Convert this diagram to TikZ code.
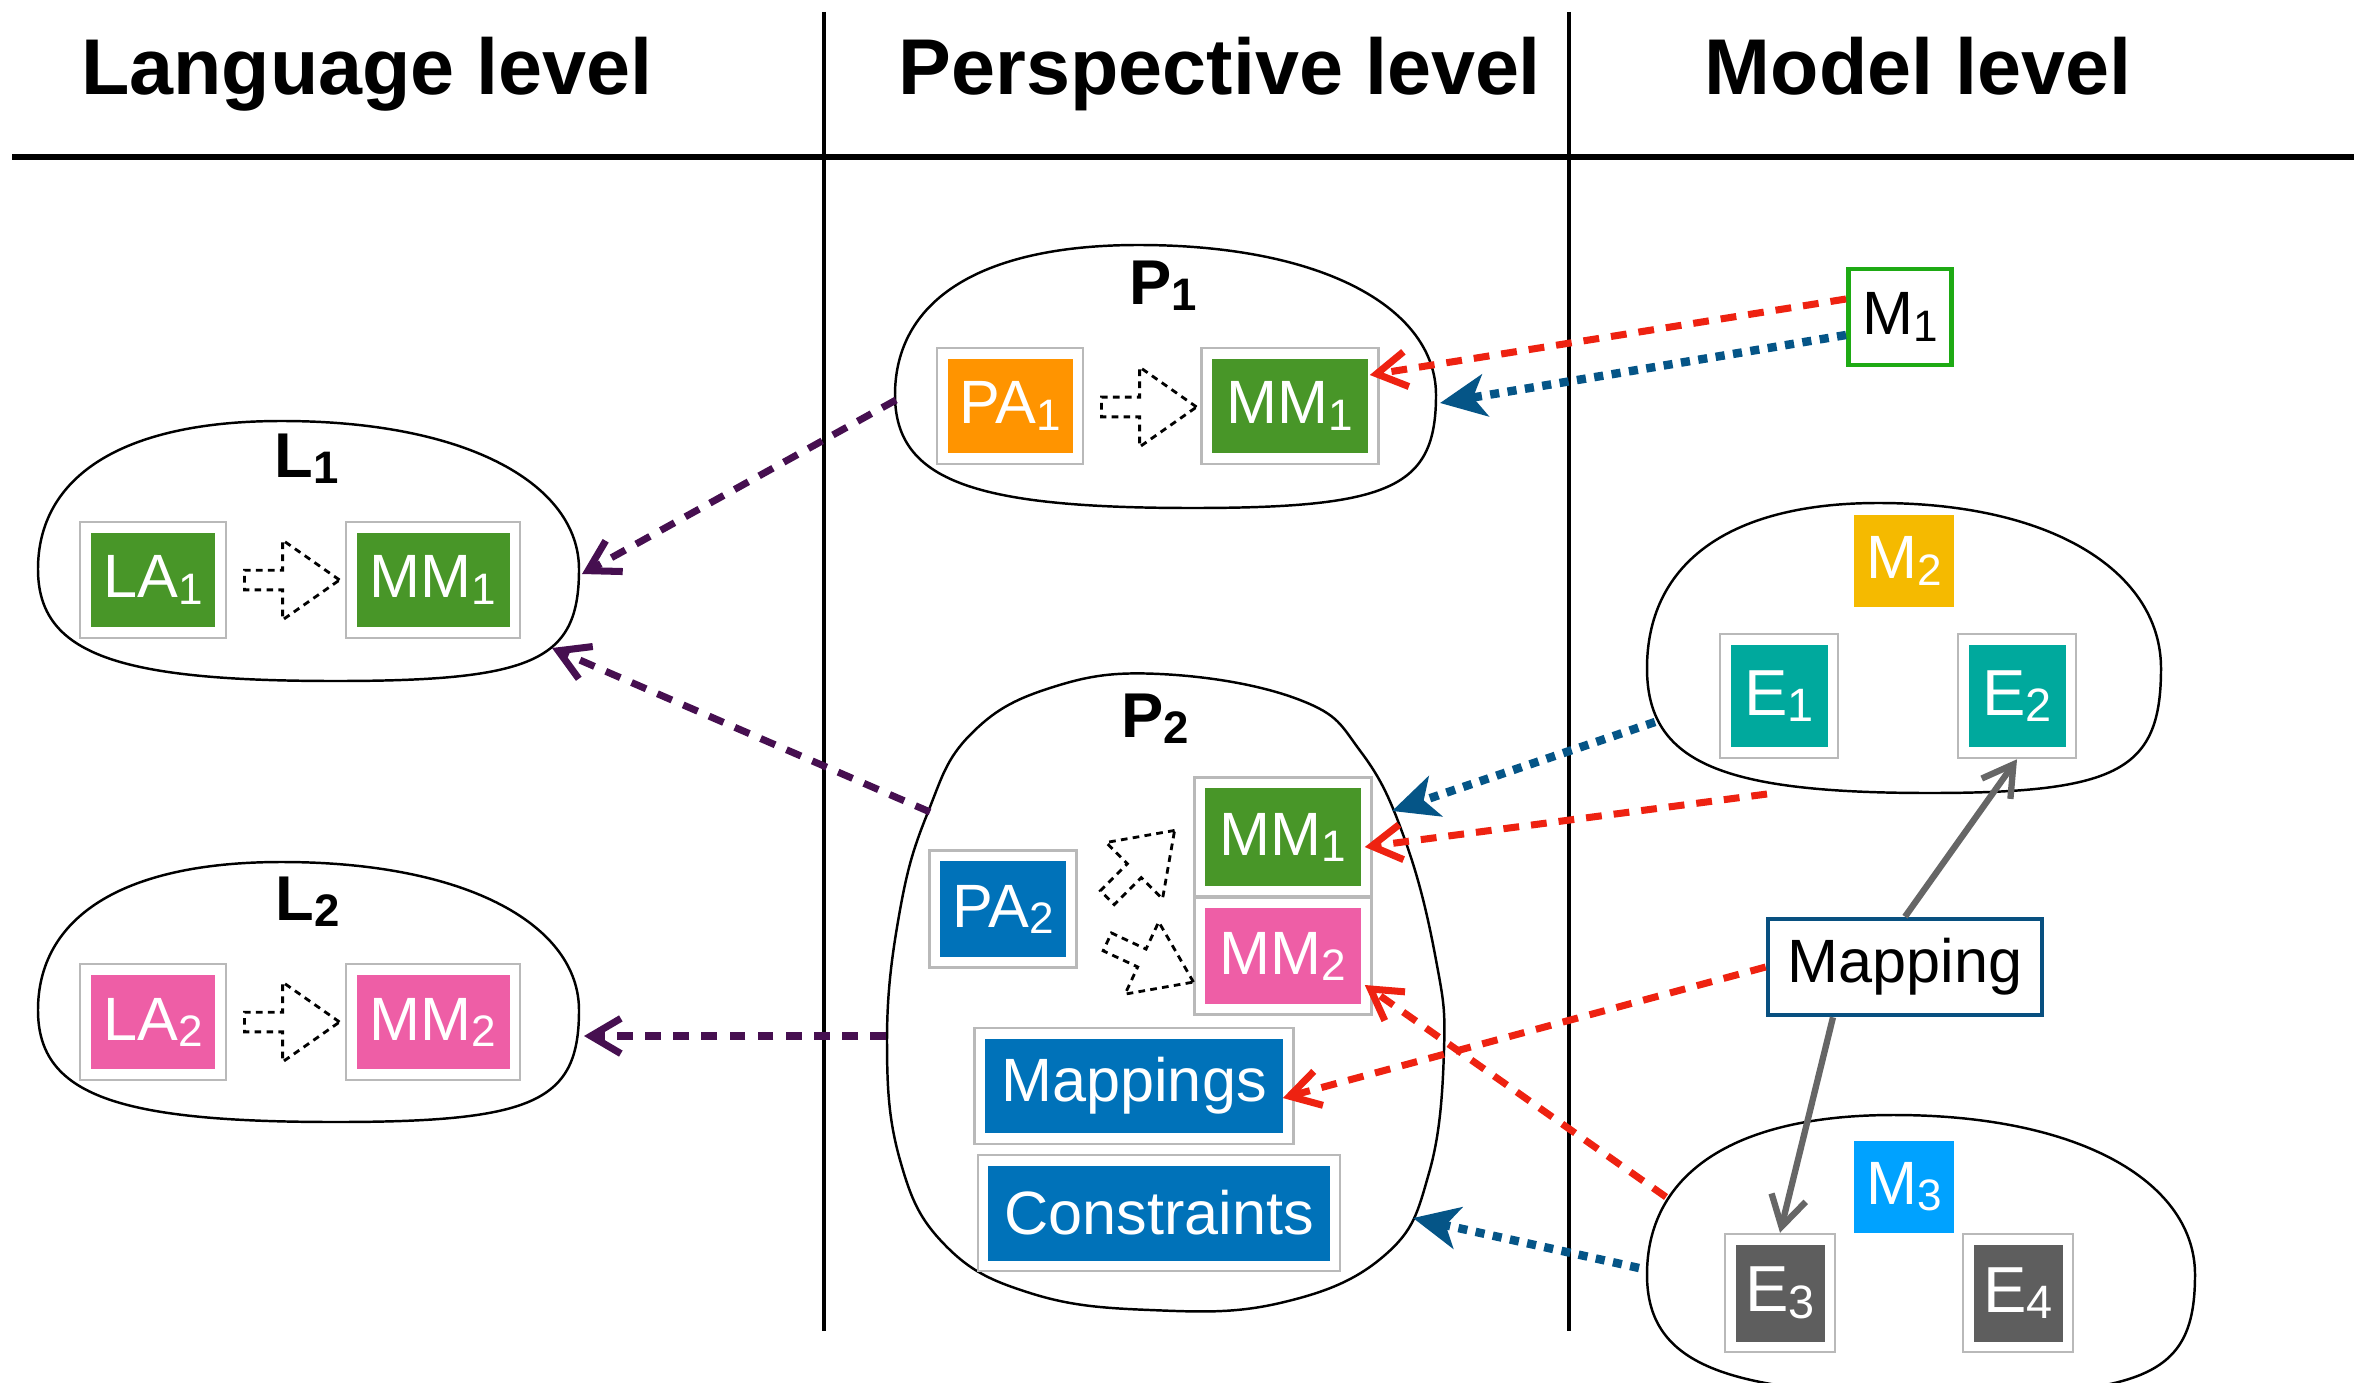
\documentclass[tikz,border=0pt]{standalone}
\usepackage{fontspec}
\setmainfont{Liberation Sans}
\usepackage{graphicx}
\usepackage{tikz}
\usetikzlibrary{arrows.meta}
\usetikzlibrary{shapes.arrows}
\usetikzlibrary{calc}

\definecolor{lagreen}{RGB}{72,150,40}
\definecolor{paorange}{RGB}{255,148,0}
\definecolor{pablue}{RGB}{0,114,185}
\definecolor{mmpink}{RGB}{238,94,166}
\definecolor{eteal}{RGB}{0,169,157}
\definecolor{egray}{RGB}{94,94,94}
\definecolor{myellow}{RGB}{245,186,0}
\definecolor{mlblue}{RGB}{0,162,255}
\definecolor{mframe}{RGB}{30,170,20}
\definecolor{mapframe}{RGB}{8,80,128}
\definecolor{lnpurple}{RGB}{70,15,80}
\definecolor{lnred}{RGB}{238,34,17}
\definecolor{lnblue}{RGB}{5,85,135}
\definecolor{lngray}{RGB}{102,102,102}

\newcommand{\ix}[1]{\raisebox{-0.1em}{\scalebox{0.72}{#1}}}
% egg shaped outline inside the box (#1,#2)-(#3,#4)
\newcommand{\blob}[4]{%
  \draw[line width=0.7pt] ({#1+0.45*(#3-#1)},{#2})
    .. controls ({#1+0.80*(#3-#1)},{#2}) and ({#3},{#2+0.25*(#4-#2)}) .. ({#3},{#2+0.57*(#4-#2)})
    .. controls ({#3},{#2+0.92*(#4-#2)}) and ({#1+0.92*(#3-#1)},{#4}) .. ({#1+0.55*(#3-#1)},{#4})
    .. controls ({#1+0.15*(#3-#1)},{#4}) and ({#1},{#2+0.90*(#4-#2)}) .. ({#1},{#2+0.57*(#4-#2)})
    .. controls ({#1},{#2+0.22*(#4-#2)}) and ({#1+0.15*(#3-#1)},{#2}) .. ({#1+0.45*(#3-#1)},{#2})
    -- cycle;}

\tikzset{
  tile/.style={draw=gray!55, line width=0.7pt, fill=white, inner sep=0pt, text=white,
    font=\fontsize{17.4}{20}\selectfont,
    path picture={\fill[fill=#1] ([shift={(3pt,3pt)}]path picture bounding box.south west)
      rectangle ([shift={(-3pt,-3pt)}]path picture bounding box.north east);}},
  mlabel/.style={fill=#1, inner sep=0pt, text=white, font=\fontsize{17.4}{20}\selectfont,
    minimum width=1cm, minimum height=0.92cm},
  hollowarrow/.style={single arrow, draw, line width=0.8pt, dash pattern=on 1.9pt off 1.5pt,
    inner xsep=0pt, inner ysep=2.4pt, minimum height=0.95cm,
    single arrow head extend=0.3cm, single arrow tip angle=70},
  blobname/.style={font=\fontsize{18}{21}\selectfont\bfseries},
  levelname/.style={font=\fontsize{22.5}{27}\selectfont\bfseries, anchor=base},
  purplelink/.style={lnpurple, line width=2pt, dash pattern=on 4.5pt off 3.5pt,
    -{Straight Barb[length=8.5pt,width=10pt,sharp]}},
  redlink/.style={lnred, line width=2pt, dash pattern=on 4.5pt off 3.4pt,
    -{Straight Barb[length=8.5pt,width=10pt,sharp]}},
  bluelink/.style={lnblue, line width=2.4pt, dash pattern=on 2.6pt off 2.4pt,
    -{Stealth[length=13pt,width=12pt,inset=3.5pt]}},
  graylink/.style={lngray, line width=1.8pt, -{Straight Barb[length=8.5pt,width=10pt,sharp]}}
}

\begin{document}
\begin{tikzpicture}[x=0.01cm, y=-0.01cm]
\useasboundingbox (0,0) rectangle (2358,1382);
% columns and headings
\draw[line width=1.5pt] (12,157) -- (2354,157);
\foreach \x in {824,1569} {
 \draw[line width=1pt] (\x,12) -- (\x,1331);
}
\node[levelname] (hlang) at (367,95) {Language level};
\node[levelname] (hpersp) at (1220,95) {Perspective level};
\node[levelname] (hmodel) at (1918,95) {Model level};

% language level
\blob{38}{421}{579}{681}
\blob{38}{862}{579}{1122}
\node[blobname] (l1) at (307,459) {L\ix{1}};
\node[blobname] (l2) at (308,902) {L\ix{2}};
\node[tile=lagreen, minimum width=1.46cm, minimum height=1.16cm] (la1) at (153,580) {LA\ix{1}};
\node[tile=lagreen, minimum width=1.74cm, minimum height=1.16cm] (mml1) at (433,580) {MM\ix{1}};
\node[tile=mmpink, minimum width=1.46cm, minimum height=1.16cm] (la2) at (153,1022) {LA\ix{2}};
\node[tile=mmpink, minimum width=1.74cm, minimum height=1.16cm] (mml2) at (433,1022) {MM\ix{2}};
\node[hollowarrow] (ha1) at (285,580) {};
\node[hollowarrow] (ha2) at (285,1022) {};

% perspective level
\blob{895}{245}{1436}{508}
\draw[line width=0.7pt] plot[smooth cycle, tension=0.7] coordinates {
  (1160,674) (1300,700) (1361,752) (1405,840) (1436,960) (1444,1050)
  (1429,1173) (1385,1255) (1280,1303) (1150,1310) (1030,1293) (945,1245)
  (900,1160) (887,1040) (900,910) (928,812) (970,735) (1050,688)};
\node[blobname] (p1) at (1163,286) {P\ix{1}};
\node[blobname] (p2) at (1155,719) {P\ix{2}};
\node[tile=paorange, minimum width=1.46cm, minimum height=1.16cm] (pa1) at (1010,406) {PA\ix{1}};
\node[tile=lagreen, minimum width=1.77cm, minimum height=1.16cm] (mmp1) at (1290,406) {MM\ix{1}};
\node[hollowarrow] (ha3) at (1142,407) {};
\node[tile=pablue, minimum width=1.47cm, minimum height=1.17cm] (pa2) at (1003,909) {PA\ix{2}};
\node[tile=lagreen, minimum width=1.77cm, minimum height=1.19cm] (mm1) at (1283,837) {MM\ix{1}};
\node[tile=mmpink, minimum width=1.77cm, minimum height=1.17cm] (mm2) at (1283,956) {MM\ix{2}};
\node[hollowarrow, rotate=45] (ha4) at (1136,869) {};
\node[hollowarrow, rotate=-25] (ha5) at (1144,959) {};
\node[tile=pablue, minimum width=3.19cm, minimum height=1.16cm] (maps) at (1134,1086) {Mappings};
\node[tile=pablue, minimum width=3.62cm, minimum height=1.16cm] (cons) at (1159,1213) {Constraints};

% model level
\blob{1647}{503}{2161}{793}
\blob{1647}{1115}{2195}{1395}
\node[draw=mframe, line width=1.4pt, inner sep=0pt, minimum width=1.03cm, minimum height=0.96cm,
  font=\fontsize{17.4}{20}\selectfont] (m1) at (1900,317) {M\ix{1}};
\node[mlabel=myellow] (m2) at (1904,561) {M\ix{2}};
\node[mlabel=mlblue] (m3) at (1904,1187) {M\ix{3}};
\foreach \i/\x/\y/\w/\h/\col in {1/1779/696/1.18/1.24/eteal, 2/2017/696/1.18/1.24/eteal,
  3/1780/1293/1.1/1.18/egray, 4/2018/1293/1.1/1.18/egray} {
 \node[tile=\col, minimum width=\w cm, minimum height=\h cm, font=\fontsize{18.5}{21}\selectfont]
   (e\i) at (\x,\y) {E\ix{\i}};
}
\node[draw=mapframe, line width=1.3pt, inner sep=0pt, minimum width=2.74cm, minimum height=0.96cm,
  font=\fontsize{17.4}{20}\selectfont] (mapping) at (1905,967) {Mapping};

% links
\coordinate (l1e) at (582,574);
\coordinate (l1se) at (552,648);
\coordinate (l2e) at (584,1036);
\coordinate (p1w) at (896,400);
\coordinate (p1e) at (1440,403);
\coordinate (p2nw) at (930,812);
\coordinate (p2w) at (886,1036);
\coordinate (p2ne) at (1392,811);
\coordinate (p2se) at (1413,1218);
\coordinate (m2w) at (1655,722);
\coordinate (m2s) at (1767,794);
\coordinate (m3nw) at (1666,1197);
\coordinate (m3w) at (1639,1268);

\draw[purplelink] (p1w) -- (l1e);
\draw[purplelink] (p2nw) -- (l1se);
\draw[purplelink] (p2w) -- (l2e);
\draw[redlink] ([yshift=0.18cm]m1.west) -- ([shift={(-0.1cm,0.31cm)}]mmp1.east);
\draw[bluelink] ([yshift=-0.18cm]m1.west) -- (p1e);
\draw[bluelink] (m2w) -- (p2ne);
\draw[redlink] (m2s) -- ([shift={(-0.08cm,-0.1cm)}]mm1.east);
\draw[redlink] (mapping.west) -- ([shift={(-0.12cm,-0.12cm)}]maps.east);
\draw[redlink] (m3nw) -- ([shift={(-0.08cm,-0.29cm)}]mm2.east);
\draw[bluelink] (m3w) -- (p2se);
\draw[graylink] (mapping.north) -- (e2.south);
\draw[graylink] ([xshift=-0.72cm]mapping.south) -- (e3.north);
\end{tikzpicture}
\end{document}
